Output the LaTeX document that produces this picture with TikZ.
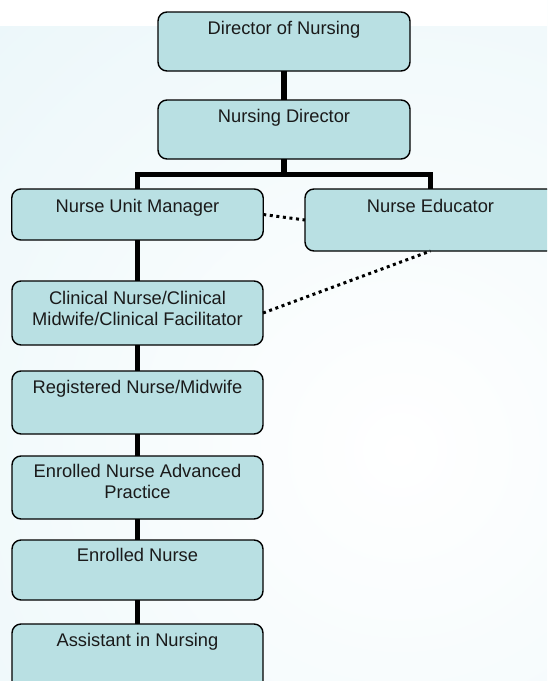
\documentclass[tikz,border=0pt]{standalone}
\usepackage{fontspec}
\setmainfont{Liberation Sans}
\usetikzlibrary{calc}

\definecolor{boxfill}{HTML}{B9E0E3}
\definecolor{bgedge}{HTML}{E2F3F7}
\definecolor{ink}{HTML}{1A1A1A}

\tikzset{
  rolebox/.style={draw=black, line width=1.4pt, fill=boxfill, rounded corners=9pt,
    inner sep=0pt, outer sep=0pt},
  rolelbl/.style={anchor=base, inner sep=0pt, text=ink, align=center,
    font=\fontsize{18.3pt}{20.5pt}\selectfont},
  trunk/.style={draw=black, line width=5.5pt},
  liaison/.style={draw=black, line width=3pt, dash pattern=on 3pt off 3.6pt}
}

\begin{document}
\begin{tikzpicture}[x=1pt, y=-1pt]
  \useasboundingbox (0,0) rectangle (547,681);
  \clip (0,0) rectangle (547,681);

  % soft backdrop
  \shade[inner color=white, outer color=bgedge] (-500,-450) rectangle (1300,1350);
  \fill[white] (0,0) rectangle (547,26);

  % boxes: centre, width, height; text baseline measured from the top edge
  \node[rolebox, minimum width=252pt, minimum height=59pt,
        label={[rolelbl, yshift=-22pt]north:Director of Nursing}] (don) at (284,41.5) {};
  \node[rolebox, minimum width=252pt, minimum height=59pt,
        label={[rolelbl, yshift=-22pt]north:Nursing Director}] (nd) at (284,129.5) {};
  \node[rolebox, minimum width=251.5pt, minimum height=51pt,
        label={[rolelbl, yshift=-23pt]north:Nurse Unit Manager}] (num) at (137.5,214.5) {};
  \node[rolebox, minimum width=251pt, minimum height=62pt,
        label={[rolelbl, yshift=-23pt]north:Nurse Educator}] (ne) at (430.5,220) {};
  \node[rolebox, minimum width=251pt, minimum height=64pt,
        label={[rolelbl, yshift=-44pt]north:Clinical Nurse/Clinical\\Midwife/Clinical Facilitator}] (cn) at (137.5,313) {};
  \node[rolebox, minimum width=251pt, minimum height=63pt,
        label={[rolelbl, yshift=-22pt]north:Registered Nurse/Midwife}] (rn) at (137.5,402.5) {};
  \node[rolebox, minimum width=251pt, minimum height=63pt,
        label={[rolelbl, yshift=-42pt]north:Enrolled Nurse Advanced\\Practice}] (enap) at (137.5,487.5) {};
  \node[rolebox, minimum width=251pt, minimum height=60pt,
        label={[rolelbl, yshift=-21pt]north:Enrolled Nurse}] (en) at (137.5,570) {};
  \node[rolebox, minimum width=251pt, minimum height=76pt,
        label={[rolelbl, yshift=-22pt]north:Assistant in Nursing}] (ain) at (137.5,662) {};

  % reporting lines
  \coordinate (bar) at (284,174.5);
  \draw[trunk] (don.south) -- (nd.north);
  \draw[trunk] (nd.south) -- (bar);
  \draw[trunk, line join=miter] (num.north) |- (bar) -| (ne.north);
  \draw[trunk] (num.south) -- (cn.north);
  \draw[trunk] (cn.south) -- (rn.north);
  \draw[trunk] (rn.south) -- (enap.north);
  \draw[trunk] (enap.south) -- (en.north);
  \draw[trunk] (en.south) -- (ain.north);

  % advisory links
  \draw[liaison] (num.east) -- (ne.west);
  \draw[liaison] (cn.east) -- (ne.south);
\end{tikzpicture}
\end{document}
